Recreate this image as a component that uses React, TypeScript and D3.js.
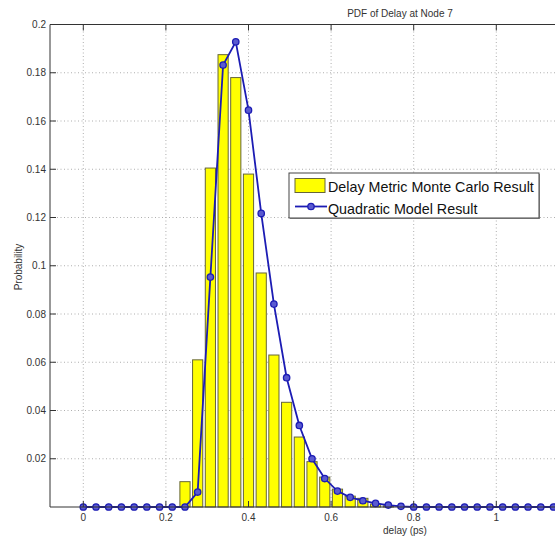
import React from "react";
import * as d3 from "d3";

// delay bin centers (ps)
const delayBins = [
  0, 0.0308, 0.0615, 0.0923, 0.1231, 0.1538, 0.1846, 0.2154, 0.2462, 0.2769,
  0.3077, 0.3385, 0.3692, 0.4, 0.4308, 0.4615, 0.4923, 0.5231, 0.5538, 0.5846,
  0.6154, 0.6462, 0.6769, 0.7077, 0.7385, 0.7692, 0.8, 0.8308, 0.8615, 0.8923,
  0.9231, 0.9538, 0.9846, 1.0154, 1.0462, 1.0769, 1.1077, 1.1385, 1.1692,
];

// Monte Carlo histogram (probability per bin)
const monteCarlo = [
  0, 0, 0, 0, 0, 0, 0, 0, 0.0105, 0.061,
  0.1405, 0.1875, 0.178, 0.138, 0.097, 0.063, 0.0434, 0.029, 0.0188, 0.0124,
  0.0074, 0.0045, 0.0036, 0.0012, 0.0005, 0, 0, 0, 0, 0,
  0, 0, 0, 0, 0, 0, 0, 0, 0,
];

// Quadratic model result
const quadratic = [
  0, 0, 0, 0, 0, 0, 0, 0, 0, 0.0062,
  0.0953, 0.1832, 0.1928, 0.1645, 0.1217, 0.0841, 0.0536, 0.0338, 0.02, 0.0118,
  0.0066, 0.004, 0.0026, 0.0015, 0.0008, 0.0003, 0, 0, 0, 0,
  0, 0, 0, 0, 0, 0, 0, 0, 0,
];

const xTicks = [0, 0.2, 0.4, 0.6, 0.8, 1];
const yTicks = [0.02, 0.04, 0.06, 0.08, 0.1, 0.12, 0.14, 0.16, 0.18, 0.2];
const xTickLabels = ["0", "0.2", "0.4", "0.6", "0.8", "1"];
const yTickLabels = ["0.02", "0.04", "0.06", "0.08", "0.1", "0.12", "0.14", "0.16", "0.18", "0.2"];

const W = 555;
const H = 545;
const left = 50;
const right = 560;
const top = 24.5;
const bottom = 507;

export default function App() {
  const x = d3.scaleLinear().domain([0, 1]).range([83.3, 496.3]);
  const y = d3.scaleLinear().domain([0, 0.2]).range([bottom, top]);
  const step = x(delayBins[1]) - x(delayBins[0]);
  const barW = step * 0.8;
  const font = "'Liberation Sans', Arial, sans-serif";

  const line = d3
    .line<number>()
    .x((_, i) => x(delayBins[i]))
    .y((d) => y(d));

  return (
    <svg
      width={W}
      height={H}
      style={{ position: "absolute", left: 0, top: 0, background: "#fff" }}
      fontFamily={font}
    >
      <defs>
        <clipPath id="plot">
          <rect x={left} y={top - 6} width={right - left} height={bottom - top + 12} />
        </clipPath>
      </defs>
      <rect x={0} y={0} width={W} height={H} fill="#fff" />
      {/* grid */}
      <g stroke="#9a9a9a" strokeWidth={0.8} strokeDasharray="1,2.5">
        {xTicks.map((t) => (
          <line key={"gx" + t} x1={x(t)} x2={x(t)} y1={top} y2={bottom} />
        ))}
        {yTicks.map((t) => (
          <line key={"gy" + t} x1={left} x2={W} y1={y(t)} y2={y(t)} />
        ))}
      </g>
      {/* bars */}
      <g clipPath="url(#plot)">
        {monteCarlo.map((v, i) =>
          v > 0 ? (
            <rect
              key={"b" + i}
              x={x(delayBins[i]) - barW / 2}
              y={y(v)}
              width={barW}
              height={bottom - y(v)}
              fill="#ffff00"
              stroke="#66663a"
              strokeWidth={1}
            />
          ) : null
        )}
        <path d={line(quadratic) || ""} fill="none" stroke="#1c1cb4" strokeWidth={1.8} />
        {quadratic.map((v, i) => (
          <circle
            key={"c" + i}
            cx={x(delayBins[i])}
            cy={y(v)}
            r={3.2}
            fill="#5a5ad0"
            stroke="#1c1cb4"
            strokeWidth={1.3}
          />
        ))}
      </g>
      {/* axes */}
      <g stroke="#333" strokeWidth={1}>
        <line x1={left} x2={left} y1={top} y2={bottom} />
        <line x1={left} x2={W} y1={bottom} y2={bottom} />
        <line x1={left} x2={W} y1={top} y2={top} />
        {xTicks.map((t) => (
          <g key={"tx" + t}>
            <line x1={x(t)} x2={x(t)} y1={bottom} y2={bottom - 6} />
            <line x1={x(t)} x2={x(t)} y1={top} y2={top + 6} />
          </g>
        ))}
        {yTicks.map((t) => (
          <line key={"ty" + t} x1={left} x2={left + 6} y1={y(t)} y2={y(t)} />
        ))}
      </g>
      {/* tick labels */}
      <g fontSize={10} fill="#333">
        {xTicks.map((t, i) => (
          <text key={"lx" + t} x={x(t)} y={521} textAnchor="middle">
            {xTickLabels[i]}
          </text>
        ))}
        {yTicks.map((t, i) => (
          <text key={"ly" + t} x={46} y={y(t) + 3.5} textAnchor="end">
            {yTickLabels[i]}
          </text>
        ))}
      </g>
      <text x={400} y={17} fontSize={10} fill="#333" textAnchor="middle">
        PDF of Delay at Node 7
      </text>
      <text x={405} y={534} fontSize={10} fill="#333" textAnchor="middle">
        delay (ps)
      </text>
      <text
        transform="translate(22,267) rotate(-90)"
        fontSize={10}
        fill="#333"
        textAnchor="middle"
      >
        Probability
      </text>
      {/* legend */}
      <g>
        <rect x={290} y={174} width={250} height={45} fill="#999" />
        <rect x={289} y={173} width={250} height={45} fill="#fff" stroke="#444" strokeWidth={1} />
        <rect x={295} y={178.5} width={30} height={14} fill="#ffff00" stroke="#66663a" strokeWidth={1} />
        <text x={328} y={192} fontSize={14.3} fill="#111">
          Delay Metric Monte Carlo Result
        </text>
        <line x1={295} x2={327} y1={206.5} y2={206.5} stroke="#1c1cb4" strokeWidth={1.8} />
        <circle cx={311} cy={206.5} r={3.2} fill="#5a5ad0" stroke="#1c1cb4" strokeWidth={1.3} />
        <text x={328} y={213.5} fontSize={14.3} fill="#111">
          Quadratic Model Result
        </text>
      </g>
    </svg>
  );
}
